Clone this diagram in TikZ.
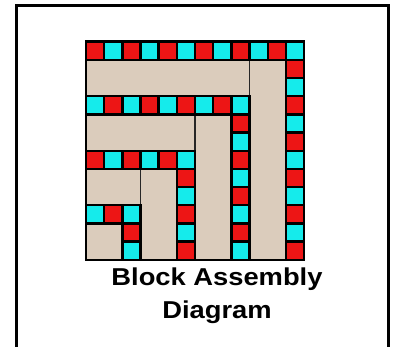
\documentclass[tikz,border=0pt]{standalone}
\usepackage{fontspec}
\setmainfont{Liberation Sans}
\definecolor{bred}{RGB}{237,21,21}
\definecolor{bcyan}{RGB}{21,235,235}
\definecolor{bbeige}{RGB}{219,204,188}
\tikzset{
  sqr/.style={fill=bred,draw=black,line width=2.4pt},
  sqc/.style={fill=bcyan,draw=black,line width=2.4pt},
  plank/.style={fill=bbeige,draw=black!85,line width=1.6pt},
  frame/.style={draw=black,line width=2.6pt},
  title/.style={font=\bfseries\fontsize{24.4}{26}\selectfont,inner sep=0pt}
}
\begin{document}
\begin{tikzpicture}[x=1pt,y=1pt]
\useasboundingbox (0,0) rectangle (393,347);
\draw[frame] (16.5,-10) -- (16.5,341.5) -- (388.5,341.5) -- (388.5,-10);
\begin{scope}[shift={(86,305.3)},x=18.17pt,y=-18.17pt]
  % planks
  \path[plank] (0,1) rectangle (9,3);
  \path[plank] (9,1) rectangle (11,12);
  \path[plank] (0,4) rectangle (6,6);
  \path[plank] (6,4) rectangle (8,12);
  \path[plank] (0,7) rectangle (3,9);
  \path[plank] (3,7) rectangle (5,12);
  \path[plank] (0,10) rectangle (2,12);
  % row 0
  \foreach \c in {0,2,...,10} \path[sqr] (\c,0) rectangle ++(1,1);
  \foreach \c in {1,3,...,11} \path[sqc] (\c,0) rectangle ++(1,1);
  % col 11
  \foreach \r in {1,3,...,11} \path[sqr] (11,\r) rectangle ++(1,1);
  \foreach \r in {2,4,...,10} \path[sqc] (11,\r) rectangle ++(1,1);
  % row 3
  \foreach \c in {0,2,...,8} \path[sqc] (\c,3) rectangle ++(1,1);
  \foreach \c in {1,3,...,7} \path[sqr] (\c,3) rectangle ++(1,1);
  % col 8
  \foreach \r in {4,6,...,10} \path[sqr] (8,\r) rectangle ++(1,1);
  \foreach \r in {5,7,...,11} \path[sqc] (8,\r) rectangle ++(1,1);
  % row 6
  \foreach \c in {0,2,4} \path[sqr] (\c,6) rectangle ++(1,1);
  \foreach \c in {1,3,5} \path[sqc] (\c,6) rectangle ++(1,1);
  % col 5
  \foreach \r in {7,9,11} \path[sqr] (5,\r) rectangle ++(1,1);
  \foreach \r in {8,10} \path[sqc] (5,\r) rectangle ++(1,1);
  % row 9
  \foreach \c in {0,2} \path[sqc] (\c,9) rectangle ++(1,1);
  \path[sqr] (1,9) rectangle ++(1,1);
  % col 2
  \path[sqr] (2,10) rectangle ++(1,1);
  \path[sqc] (2,11) rectangle ++(1,1);
  % outer border
  \draw[black,line width=2.4pt] (0,0) rectangle (12,12);
\end{scope}
\node[title,anchor=base] (t1) at (217,61) {\scalebox{1.12}[1]{Block Assembly}};
\node[title,anchor=base] (t2) at (217,28) {\scalebox{1.12}[1]{Diagram}};
\end{tikzpicture}
\end{document}
